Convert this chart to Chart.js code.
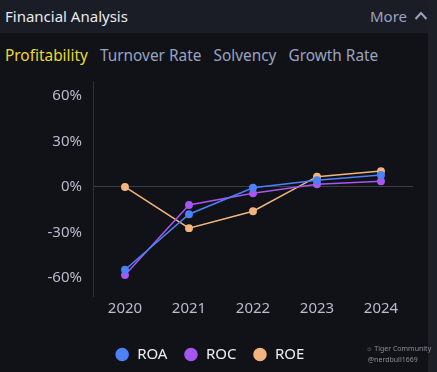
<!DOCTYPE html>
<html>
<head>
<meta charset="utf-8">
<script src="https://cdn.jsdelivr.net/npm/chart.js@4.4.1/dist/chart.umd.min.js"></script>
<style>
  html, body { margin: 0; padding: 0; }
  body {
    width: 437px; height: 372px; overflow: hidden; position: relative;
    background: #101217; font-family: "Noto Sans", sans-serif;
  }
  .header {
    position: absolute; left: 0; top: 0; width: 428px; height: 33px;
    background: #1a1d25; color: #e8eaf0; font-size: 15px;
  }
  .header .title { position: absolute; left: 5px; top: 6px; }
  .header .more { position: absolute; left: 370px; top: 6px; color: #9aa3c0; }
  .header svg { position: absolute; left: 414px; top: 11px; }
  .tabs { position: absolute; left: 5px; top: 45px; font-size: 15.4px; color: #9aa3c0; white-space: nowrap; }
  .tabs span { margin-right: 8px; }
  .tabs .active { color: #ecd834; }
  .scroll { position: absolute; left: 428px; top: 0; width: 9px; height: 372px; background: #1c1f26; }
  .chart-box { position: absolute; left: 0; top: 61px; width: 428px; height: 311px; }
  .mark { position: absolute; left: 366px; top: 343px; font-size: 7px; color: #8a8d94; line-height: 11px; }
</style>
</head>
<body>
<div class="header">
  <span class="title">Financial Analysis</span><span class="more">More</span>
  <svg width="14" height="9" viewBox="0 0 14 9"><polyline points="1.5,8 7,2 12.5,8" fill="none" stroke="#9aa3c0" stroke-width="2"/></svg>
</div>
<div class="tabs"><span class="active">Profitability</span> <span>Turnover Rate</span> <span>Solvency</span> <span>Growth Rate</span></div>
<div class="scroll"></div>
<div class="chart-box"><canvas id="finChart"></canvas></div>
<div class="mark">&#9788; Tiger Community<br>&nbsp;@nerdbull1669</div>
<script>
// Profitability ratios (%)
const years = ['2020', '2021', '2022', '2023', '2024'];
const roa = [-54.7, -18, -0.5, 4.4, 7.9];
const roc = [-58.2, -11.9, -4.2, 1.8, 3.8];
const roe = [0, -27.2, -16, 6.8, 10.5];
const yTicks = [-60, -30, 0, 30, 60];

function line(label, data, color) {
  return {
    label: label,
    data: data,
    borderColor: color,
    backgroundColor: color,
    borderWidth: 1.5,
    pointRadius: 3.2,
    pointHoverRadius: 4,
    tension: 0
  };
}

const ctx = document.getElementById('finChart');
if (ctx) {
  new Chart(ctx, {
    type: 'line',
    data: {
      labels: years,
      datasets: [
        line('ROA', roa, '#4c82f7'),
        line('ROC', roc, '#a657f2'),
        line('ROE', roe, '#f2b57e')
      ]
    },
    options: {
      responsive: true,
      maintainAspectRatio: false,
      animation: false,
      layout: { padding: { top: 0, right: 15, left: 6, bottom: 0 } },
      plugins: {
        legend: {
          position: 'bottom',
          labels: {
            usePointStyle: true,
            pointStyle: 'circle',
            boxWidth: 21,
            boxHeight: 8.5,
            padding: 16,
            color: '#eceef2',
            font: { family: 'Noto Sans', size: 15 }
          }
        },
        tooltip: { enabled: false }
      },
      scales: {
        x: {
          offset: true,
          grid: { display: false, drawTicks: false },
          border: { display: false },
          afterFit: (axis) => { axis.height = 35; },
          ticks: { color: '#b8bccb', padding: 4, font: { family: 'Noto Sans', size: 15 } }
        },
        y: {
          min: -72,
          max: 70,
          afterBuildTicks: (axis) => { axis.ticks = yTicks.map(v => ({ value: v })); },
          afterFit: (axis) => { axis.width = 87; },
          grid: {
            drawTicks: false,
            color: (c) => (c.tick && c.tick.value === 0 ? '#3a3d46' : 'transparent')
          },
          border: { display: true, color: '#2e3138' },
          ticks: {
            color: '#b8bccb',
            padding: 11,
            font: { family: 'Noto Sans', size: 15 },
            callback: (v) => v + '%'
          }
        }
      }
    }
  });
}
</script>
</body>
</html>
